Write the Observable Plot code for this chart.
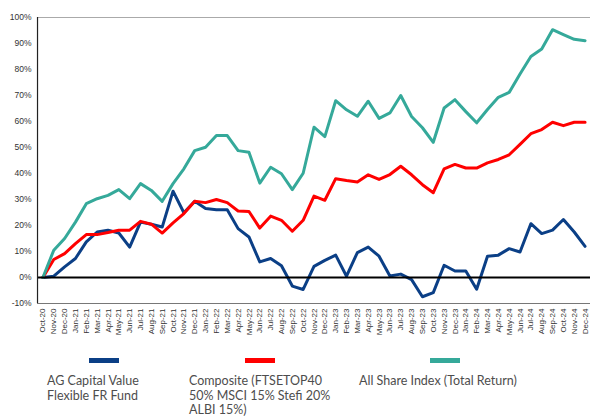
<!DOCTYPE html>
<html>
<head>
<meta charset="utf-8">
<script src="https://cdn.jsdelivr.net/npm/d3@7"></script>
<script src="https://cdn.jsdelivr.net/npm/@observablehq/plot@0.6"></script>
<style>
  html, body { margin: 0; padding: 0; background: #fff; overflow: hidden; width: 590px; }
  #chart svg { display: block; }
  #legend { position: relative; width: 590px; height: 74px; overflow: hidden; font-family: Lato, "Open Sans", sans-serif; font-size: 12.5px; color: #4d4d4d; line-height: 14.5px; }
  .sw { position: absolute; top: 13px; width: 30px; height: 5px; }
  .lb { position: absolute; top: 29px; white-space: nowrap; }
</style>
</head>
<body>
<div id="chart"></div>
<div id="legend"></div>
<script>
const months = ["Oct-20","Nov-20","Dec-20","Jan-21","Feb-21","Mar-21","Apr-21","May-21","Jun-21","Jul-21","Aug-21","Sep-21","Oct-21","Nov-21","Dec-21","Jan-22","Feb-22","Mar-22","Apr-22","May-22","Jun-22","Jul-22","Aug-22","Sep-22","Oct-22","Nov-22","Dec-22","Jan-23","Feb-23","Mar-23","Apr-23","May-23","Jun-23","Jul-23","Aug-23","Sep-23","Oct-23","Nov-23","Dec-23","Jan-24","Feb-24","Mar-24","Apr-24","May-24","Jun-24","Jul-24","Aug-24","Sep-24","Oct-24","Nov-24","Dec-24"];

const fund = [0, 0.5, 4.1, 7.3, 13.7, 17.5, 18.2, 17.1, 11.7, 21.3, 20.5, 19.4, 33.2, 24.9, 29.3, 26.5, 26.1, 26.1, 18.8, 15.6, 6.0, 7.3, 4.5, -3.3, -4.6, 4.3, 6.6, 8.6, 0.5, 9.6, 11.7, 8.2, 0.6, 1.3, -0.8, -7.4, -5.8, 4.7, 2.5, 2.5, -4.5, 8.2, 8.6, 11.1, 9.8, 20.7, 16.9, 18.2, 22.3, 17.5, 12.0];

const composite = [0, 6.9, 9.2, 13.0, 16.5, 16.5, 17.3, 18.2, 18.2, 21.6, 20.5, 17.1, 21.0, 24.6, 29.3, 28.8, 30.0, 28.8, 25.6, 25.4, 19.0, 23.6, 22.0, 17.8, 22.0, 31.3, 29.7, 38.0, 37.3, 36.7, 39.5, 37.7, 39.6, 42.8, 39.5, 35.7, 32.6, 41.8, 43.5, 42.1, 42.1, 44.1, 45.4, 47.2, 51.2, 55.3, 56.9, 59.7, 58.4, 59.7, 59.7];

const allShare = [0, 10.5, 15.0, 21.3, 28.4, 30.3, 31.6, 33.8, 30.3, 36.1, 33.5, 29.3, 36.1, 41.8, 48.8, 50.1, 54.6, 54.6, 48.8, 48.2, 36.3, 42.4, 39.9, 33.8, 40.1, 57.8, 54.2, 68.0, 64.5, 62.0, 67.8, 61.2, 63.3, 70.0, 61.9, 57.6, 52.0, 65.2, 68.4, 63.8, 59.5, 64.6, 69.3, 71.2, 78.3, 85.0, 87.9, 95.3, 93.4, 91.6, 91.1];

const seriesNames = ["AG Capital Value Flexible FR Fund", "Composite (FTSETOP40 50% MSCI 15% Stefi 20% ALBI 15%)", "All Share Index (Total Return)"];
const legendLines = [["AG Capital Value", "Flexible FR Fund"], ["Composite (FTSETOP40", "50% MSCI 15% Stefi 20%", "ALBI 15%)"], ["All Share Index (Total Return)"]];
const seriesColors = ["#0b3f86", "#ff0000", "#35a99a"];
const yTicks = [-10, 0, 10, 20, 30, 40, 50, 60, 70, 80, 90, 100];

const seriesValues = [fund, composite, allShare];
const data = seriesValues.flatMap((vals, s) => vals.map((v, i) => ({month: months[i], value: v, series: seriesNames[s]})));

const chart = Plot.plot({
  width: 590,
  height: 345,
  marginTop: 17,
  marginBottom: 42,
  marginLeft: 37,
  marginRight: 0,
  style: {fontFamily: "'Liberation Sans', Arial, sans-serif", color: "#333", background: "#fff"},
  x: {type: "point", domain: months, padding: 0.5, label: null},
  y: {domain: [-10, 100], label: null},
  color: {domain: seriesNames, range: seriesColors},
  marks: [
    Plot.ruleY([100], {stroke: "#aaa", strokeWidth: 1}),
    Plot.ruleY([-10], {stroke: "#777", strokeWidth: 1}),
    Plot.axisY({ticks: yTicks, tickSize: 0, tickPadding: 6, tickFormat: d => d + "%", fontSize: 8.5, label: null}),
    Plot.axisX({tickSize: 0, tickPadding: 5, tickRotate: -90, fontSize: 8, label: null}),
    Plot.line(data, {x: "month", y: "value", z: "series", stroke: "series", strokeWidth: 3, strokeLinejoin: "round"}),
    Plot.ruleY([0], {stroke: "#000", strokeWidth: 2}),
    Plot.ruleX([months[0]], {y1: -10, y2: 100, stroke: "#222", strokeWidth: 1.2, dx: -5.4})
  ]
});
document.getElementById("chart").append(chart);

const legend = document.getElementById("legend");
const swLeft = [89, 245, 430];
const lbLeft = [47, 189, 359];
legendLines.forEach((lines, i) => {
  const sw = document.createElement("div");
  sw.className = "sw";
  sw.style.left = swLeft[i] + "px";
  sw.style.background = seriesColors[i];
  legend.append(sw);
  const lb = document.createElement("div");
  lb.className = "lb";
  lb.style.left = lbLeft[i] + "px";
  lb.innerHTML = lines.join("<br>");
  legend.append(lb);
});
</script>
</body>
</html>
